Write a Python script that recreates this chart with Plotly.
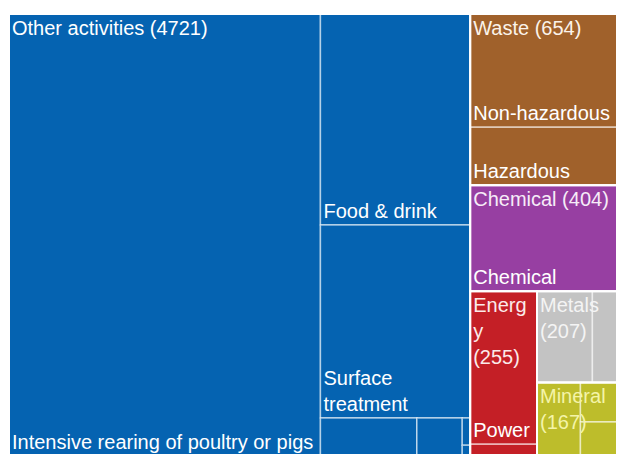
import plotly.graph_objects as go

# sector groups (top level of the treemap)
group_names = ["Other activities", "Waste", "Chemical", "Energy", "Metals", "Mineral"]
group_totals = [4721, 654, 404, 255, 207, 167]
group_headers = ["Other activities (4721)", "Waste (654)", "Chemical (404)",
                 "Energ<br>y<br>(255)", "Metals<br>(207)", "Mineral<br>(167)"]
group_colors = ["#0563B1", "#A0612B", "#973FA2", "#C41F26", "#C3C3C3", "#BDBD2B"]
header_colors = ["#FFFFFF", "#FBF3EA", "#F6ECF8", "#FBEAEA", "#F4F4F4", "#F4F4A8"]

# activities inside each group (labels of the small cells are not shown)
leaf_names = ["Intensive rearing of poultry or pigs", "Food & drink", "Surface treatment",
              "Other A", "Other B", "Other C", "Other D",
              "Non-hazardous", "Hazardous",
              "Chemical",
              "Power", "Other energy",
              "Metals A", "Metals B",
              "Mineral A", "Mineral B", "Mineral C"]
leaf_groups = ["Other activities"] * 7 + ["Waste"] * 2 + ["Chemical"] + ["Energy"] * 2 \
    + ["Metals"] * 2 + ["Mineral"] * 3
leaf_values = [3188, 732, 669, 85, 40, 5, 2,
               432, 222,
               404,
               237, 18,
               117, 90,
               74, 50, 43]
leaf_text = ["Intensive rearing of poultry or pigs", "Food & drink", "Surface<br>treatment",
             "", "", "", "",
             "Non-hazardous", "Hazardous",
             "Chemical",
             "Power", "",
             "", "",
             "", "", ""]

FONT = "Liberation Sans, Arial, sans-serif"

color_of = dict(zip(group_names, group_colors))
ids = group_names + [g + "/" + n for g, n in zip(leaf_groups, leaf_names)]
labels = group_names + leaf_names
parents = [""] * len(group_names) + leaf_groups
values = group_totals + leaf_values
texts = [""] * len(group_names) + leaf_text
colors = group_colors + [color_of[g] for g in leaf_groups]

fig = go.Figure()

# coloured cells with the activity labels at the bottom left
fig.add_trace(go.Treemap(
    ids=ids, labels=labels, parents=parents, values=values,
    branchvalues="total", sort=True,
    text=texts, texttemplate="%{text}", textposition="bottom left",
    textfont=dict(family=FONT, size=20, color="white"),
    marker=dict(colors=colors, pad=dict(t=0, l=0, r=0, b=0),
                line=dict(color="rgba(255,255,255,0.6)", width=1.5)),
    tiling=dict(packing="binary", pad=0),
    pathbar=dict(visible=False),
    hoverinfo="label+value",
))

# group outlines and group titles on top
fig.add_trace(go.Treemap(
    ids=group_names, labels=group_names, parents=[""] * len(group_names),
    values=group_totals, sort=True,
    text=group_headers, texttemplate="%{text}", textposition="top left",
    textfont=dict(family=FONT, size=20, color=header_colors),
    marker=dict(colors=["rgba(0,0,0,0)"] * len(group_names),
                pad=dict(t=0, l=0, r=0, b=0),
                line=dict(color="white", width=2)),
    tiling=dict(packing="binary", pad=0),
    pathbar=dict(visible=False),
    hoverinfo="skip",
))

fig.update_layout(
    width=627, height=448,
    margin=dict(l=1, r=0, t=6, b=0),
    paper_bgcolor="white",
    font=dict(family=FONT),
)

fig.write_html("out.html")
